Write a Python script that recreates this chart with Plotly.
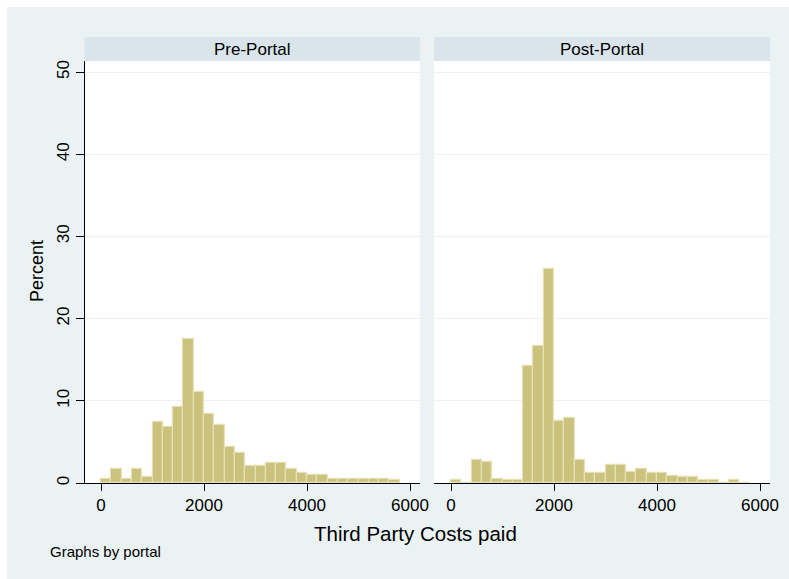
import plotly.graph_objects as go

# ---- data ----
bin_width = 200
bin_starts = [i * 200 for i in range(29)]  # 0 .. 5600
pre_portal = [0.5, 1.75, 0.5, 1.75, 0.7, 7.4, 6.8, 9.3, 17.55, 11.1, 8.45, 7.0,
              4.37, 3.67, 2.08, 2.08, 2.45, 2.45, 1.75, 1.18, 1.0, 1.0,
              0.49, 0.49, 0.49, 0.49, 0.49, 0.49, 0.33]
post_portal = [0.33, 0.0, 2.8, 2.6, 0.53, 0.33, 0.33, 14.2, 16.7, 26.0, 7.55, 7.9,
               2.78, 1.18, 1.18, 2.25, 2.25, 1.39, 1.75, 1.18, 1.18, 0.86,
               0.69, 0.69, 0.33, 0.33, 0.0, 0.33, 0.0]
panel_titles = ["Pre-Portal", "Post-Portal"]
x_ticks = [0, 2000, 4000, 6000]
y_ticks = [0, 10, 20, 30, 40, 50]
x_title = "Third Party Costs paid"
y_title = "Percent"
note = "Graphs by portal"

W, H = 789, 579
def px(x):
    return x / W
def py(y):
    return 1 - y / H

centers = [s + bin_width / 2 for s in bin_starts]

BAR = "#CBC37D"
BAR_LINE = "#E6E1B8"
BG = "#EAF2F3"
STRIP = "#D9E5EB"
FONT = "Liberation Sans, Arial, sans-serif"

fig = go.Figure()
fig.add_trace(go.Bar(x=centers, y=pre_portal, width=bin_width,
                     marker=dict(color=BAR, line=dict(color=BAR_LINE, width=1.2)),
                     xaxis="x", yaxis="y", showlegend=False))
fig.add_trace(go.Bar(x=centers, y=post_portal, width=bin_width,
                     marker=dict(color=BAR, line=dict(color=BAR_LINE, width=1.2)),
                     xaxis="x2", yaxis="y2", showlegend=False))

ydom = [py(483), py(61)]
yrange = [0, 51.34]

xcommon = dict(tickmode="array", tickvals=x_ticks, ticks="outside", ticklen=7,
               tickcolor="black", tickwidth=1, showline=True, linecolor="black",
               linewidth=1, showgrid=False, zeroline=False,
               tickfont=dict(family=FONT, size=17, color="black"),
               automargin=False)
fig.update_layout(
    width=W, height=H,
    margin=dict(l=0, r=0, t=0, b=0),
    paper_bgcolor=BG, plot_bgcolor="white",
    bargap=0,
    xaxis=dict(domain=[px(85), px(420)], range=[-311, 6194], anchor="y", **xcommon),
    xaxis2=dict(domain=[px(434), px(770)], range=[-330, 6194], anchor="y2", **xcommon),
    yaxis=dict(domain=ydom, range=yrange, anchor="x", tickmode="array", tickvals=y_ticks,
               ticks="outside", ticklen=8, tickcolor="black", showline=True,
               linecolor="black", linewidth=1, showgrid=True, gridcolor=BG, gridwidth=1,
               zeroline=False, tickangle=-90,
               tickfont=dict(family=FONT, size=17, color="black"), automargin=False),
    yaxis2=dict(domain=ydom, range=yrange, anchor="x2", tickmode="array", tickvals=y_ticks,
                showticklabels=False, ticks="", showline=False, showgrid=True,
                gridcolor=BG, gridwidth=1, zeroline=False, automargin=False),
    shapes=[
        dict(type="rect", xref="paper", yref="paper", x0=0, x1=1, y0=py(7), y1=1,
             fillcolor="white", line=dict(width=0), layer="below"),
        dict(type="rect", xref="paper", yref="paper", x0=0, x1=px(7), y0=0, y1=1,
             fillcolor="white", line=dict(width=0), layer="below"),
        dict(type="rect", xref="paper", yref="paper", x0=px(84.5), x1=px(420),
             y0=py(61), y1=py(37), fillcolor=STRIP, line=dict(width=0), layer="below"),
        dict(type="rect", xref="paper", yref="paper", x0=px(434), x1=px(770),
             y0=py(61), y1=py(37), fillcolor=STRIP, line=dict(width=0), layer="below"),
    ],
    annotations=[
        dict(text=panel_titles[0], xref="paper", yref="paper", x=px(252), y=py(49),
             showarrow=False, xanchor="center", yanchor="middle",
             font=dict(family=FONT, size=17, color="black")),
        dict(text=panel_titles[1], xref="paper", yref="paper", x=px(602), y=py(49),
             showarrow=False, xanchor="center", yanchor="middle",
             font=dict(family=FONT, size=17, color="black")),
        dict(text=x_title, xref="paper", yref="paper", x=px(415), y=py(533),
             showarrow=False, xanchor="center", yanchor="middle",
             font=dict(family=FONT, size=20.5, color="black")),
        dict(text=y_title, xref="paper", yref="paper", x=px(37), y=py(271),
             showarrow=False, xanchor="center", yanchor="middle", textangle=-90,
             font=dict(family=FONT, size=18, color="black")),
        dict(text=note, xref="paper", yref="paper", x=px(48), y=py(551),
             showarrow=False, xanchor="left", yanchor="middle",
             font=dict(family=FONT, size=15, color="black")),
    ],
)

fig.write_html("out.html", config={"displayModeBar": False})
